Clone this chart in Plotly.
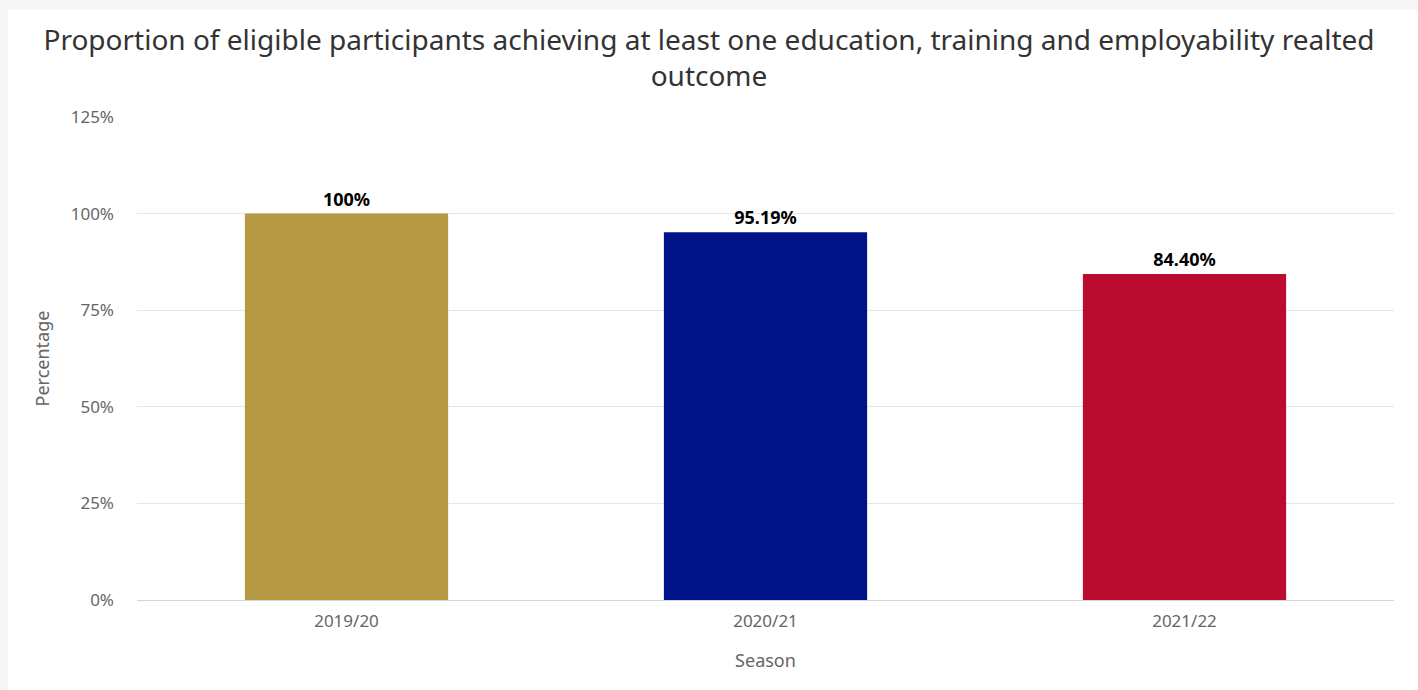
import plotly.graph_objects as go

# Seasons and the share of eligible participants with at least one outcome
seasons = ["2019/20", "2020/21", "2021/22"]
proportions = [100, 95.19, 84.40]
bar_colors = ["#B59A43", "#001489", "#BA0C2F"]
y_ticks = [0, 25, 50, 75, 100, 125]


def fmt_pct(v):
    return "100%" if v == 100 else f"{v:.2f}%"


labels = [fmt_pct(v) for v in proportions]

W, H = 1418, 690
L, R, T, B = 137, 24, 117, 90
pw, ph = W - L - R, H - T - B

FONT = "Noto Sans"

fig = go.Figure(
    go.Bar(
        x=seasons,
        y=proportions,
        marker=dict(color=bar_colors, line=dict(width=0)),
        width=0.485,
        text=labels,
        textposition="outside",
        textfont=dict(family=FONT, size=18, color="#000000", weight="bold"),
        cliponaxis=False,
        hoverinfo="skip",
    )
)

# White card sitting on a light grey page
fig.add_shape(
    type="rect",
    xref="paper", yref="paper",
    x0=(8 - L) / pw, x1=(W + 5 - L) / pw,
    y0=(H - (H + 5) - B) / ph, y1=(H - 10 - B) / ph,
    fillcolor="#ffffff", line=dict(width=0), layer="below",
)

fig.update_layout(
    width=W, height=H,
    margin=dict(l=L, r=R, t=T, b=B),
    paper_bgcolor="#f6f6f6",
    plot_bgcolor="rgba(0,0,0,0)",
    showlegend=False,
    bargap=0.515,
    title=dict(
        text="Proportion of eligible participants achieving at least one education, training and employability realted<br>outcome",
        x=0.5, xref="container", xanchor="center",
        y=1 - 50 / H, yref="container", yanchor="middle",
        font=dict(family=FONT, size=28, color="#333333"),
    ),
    font=dict(family=FONT, color="#666666"),
)

fig.update_xaxes(
    showline=True, linecolor="#ccd6eb", linewidth=1,
    showgrid=False, ticks="",
    tickfont=dict(size=17, color="#666666"),
    ticklabelstandoff=6,
    title=dict(text="Season", font=dict(size=18, color="#666666"), standoff=22),
)

fig.update_yaxes(
    range=[0, 125],
    tickvals=y_ticks,
    ticktext=[f"{t}%" for t in y_ticks],
    showgrid=True, gridcolor="#e6e6e6", gridwidth=1,
    zeroline=False, showline=False, ticks="",
    tickfont=dict(size=17, color="#666666"),
    ticklabelstandoff=22,
    title=dict(text="Percentage", font=dict(size=18, color="#666666"), standoff=16),
)

fig.write_html("out.html")
